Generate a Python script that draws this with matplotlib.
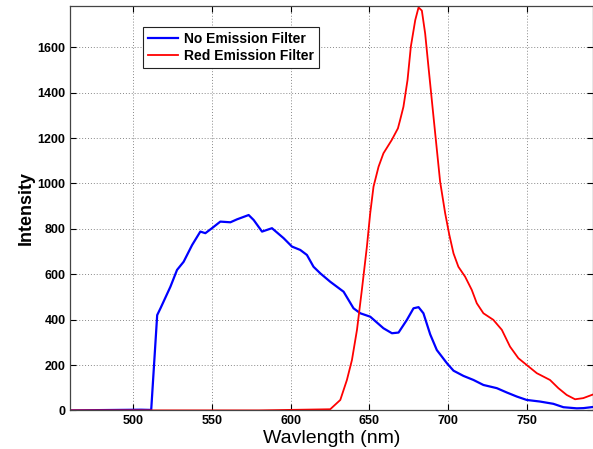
import matplotlib
matplotlib.use("Agg")
import matplotlib.pyplot as plt

# No Emission Filter (blue)
blue_nm = [460, 490, 505, 511.4, 515.2, 517.3, 523.6, 527.8, 532, 537.4, 542.6,
           545.8, 550, 555.3, 561.7, 565.9, 573.3, 576.5, 581.8, 588.1, 595.5, 600.8,
           606.1, 610.3, 614.5, 618.8, 625.1, 633.6, 639.9, 644.2, 650.5, 658.9, 664.3,
           668.5, 673.8, 678, 681.2, 684.3, 688.6, 692.8, 699.2, 703.4, 709.7, 716.1,
           722.4, 730.9, 737.2, 743.6, 749.9, 758.3, 766.8, 773.2, 781.7, 786, 792]
blue_int = [0, 2, 3, 2, 420, 450, 545, 619, 655, 729, 788,
            781, 803, 832, 829, 842, 861, 839, 788, 803, 759, 722,
            707, 685, 633, 604, 567, 523, 450, 428, 413, 362, 340,
            343, 399, 450, 455, 428, 335, 266, 208, 175, 152, 134,
            112, 98, 79, 61, 46, 39, 29, 14, 9, 10, 15]

# Red Emission Filter (red)
red_nm = [460, 520, 580, 625.1, 631.5, 635.7, 638.9, 642.1, 645.2, 648.4, 650.5, 652.6,
          655.8, 658.9, 664.2, 668.1, 669.5, 671.6, 674.2, 676.3, 679.1, 681.2, 683.3,
          685.4, 687.5, 690.7, 694.9, 698.1, 700.7, 703.4, 706.5, 710.8, 715, 718.2,
          722.4, 728.7, 734.1, 739.3, 744.6, 749.9, 756.3, 764.7, 770, 775.3, 780.6,
          785.8, 791.2, 792]
red_int = [0, 0, 0, 5, 46, 134, 222, 355, 531, 722, 869, 986,
           1074, 1133, 1192, 1243, 1280, 1338, 1456, 1603, 1720, 1776, 1762,
           1661, 1514, 1294, 1008, 869, 775, 692, 633, 589, 531, 472,
           428, 399, 355, 281, 230, 200, 164, 134, 98, 68, 49,
           54, 68, 70]

xticks = [500, 550, 600, 650, 700, 750]
yticks = [0, 200, 400, 600, 800, 1000, 1200, 1400, 1600]

plt.rcParams['font.family'] = ['Liberation Sans', 'DejaVu Sans']

fig = plt.figure(figsize=(5.93, 4.49), dpi=100)
ax = fig.add_axes([0.1185, 0.086, 0.8815, 0.9005])

ax.plot(blue_nm, blue_int, color='#0000ff', lw=1.6, solid_joinstyle='round',
        label='No Emission Filter')
ax.plot(red_nm, red_int, color='#ff0000', lw=1.3, solid_joinstyle='round',
        label='Red Emission Filter')

ax.set_xlim(460, 792)
ax.set_ylim(0, 1782)
ax.set_xticks(xticks)
ax.set_yticks(yticks)
ax.tick_params(direction='in', top=True, right=True, length=4, width=0.8,
               labelsize=9)
for lab in ax.get_xticklabels() + ax.get_yticklabels():
    lab.set_fontweight('bold')

ax.grid(True, color='#888888', linestyle=(0, (1, 2)), linewidth=0.7)
for s in ax.spines.values():
    s.set_color('#444444')
    s.set_linewidth(0.9)

ax.set_xlabel('Wavlength (nm)', fontsize=14, labelpad=2)
ax.set_ylabel('Intensity', fontsize=13, fontweight='bold', labelpad=2)

leg = ax.legend(loc='upper left', bbox_to_anchor=(0.126, 0.965), fancybox=False,
                framealpha=1, edgecolor='#222222', prop={'weight': 'bold', 'size': 10},
                handlelength=2.2, handletextpad=0.4, borderpad=0.35, labelspacing=0.2)
leg.get_frame().set_linewidth(0.8)

fig.savefig('out.png', dpi=100)
